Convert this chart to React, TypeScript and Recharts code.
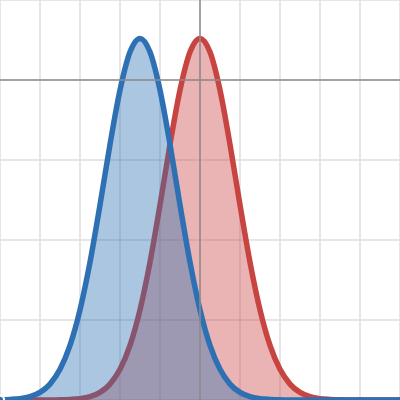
import { AreaChart, Area, XAxis, YAxis, CartesianGrid, ReferenceLine } from "recharts";

const xValues = [
  -5, -4.75, -4.5, -4.25, -4, -3.75, -3.5, -3.25, -3, -2.75, -2.5, -2.25, -2, -1.75, -1.5, -1.25, -1, -0.75, -0.5,
  -0.25, 0, 0.25, 0.5, 0.75, 1, 1.25, 1.5, 1.75, 2, 2.25, 2.5, 2.75, 3, 3.25, 3.5, 3.75, 4, 4.25, 4.5, 4.75, 5,
];

// red curve, peak at x = 0
const redValues = [
  -4, -4, -4, -4, -4, -3.999, -3.998, -3.993, -3.983, -3.958, -3.905, -3.801, -3.617, -3.318, -2.873, -2.277, -1.562,
  -0.806, -0.126, 0.349, 0.52, 0.349, -0.126, -0.806, -1.562, -2.277, -2.873, -3.318, -3.617, -3.801, -3.905, -3.958,
  -3.983, -3.993, -3.998, -3.999, -4, -4, -4, -4, -4,
];

// blue curve, peak at x = -1.5
const blueValues = [
  -3.998, -3.993, -3.983, -3.958, -3.905, -3.801, -3.617, -3.318, -2.873, -2.277, -1.562, -0.806, -0.126, 0.349, 0.52,
  0.349, -0.126, -0.806, -1.562, -2.277, -2.873, -3.318, -3.617, -3.801, -3.905, -3.958, -3.983, -3.993, -3.998,
  -3.999, -4, -4, -4, -4, -4, -4, -4, -4, -4, -4, -4,
];

const xTicks = [-5, -4, -3, -2, -1, 0, 1, 2, 3, 4, 5];
const yTicks = [-4, -3, -2, -1, 0, 1];

const RED = "#c74440";
const BLUE = "#2d70b3";

const data = xValues.map((x, i) => ({ x, red: redValues[i], blue: blueValues[i] }));

export default function App() {
  return (
    <div style={{ position: "fixed", left: 0, top: 0, width: 400, height: 400, background: "#fff" }}>
      <AreaChart width={400} height={400} data={data} margin={{ top: 0, right: 0, bottom: 0, left: 0 }}>
        <CartesianGrid stroke="#dedede" strokeWidth={1.5} />
        <XAxis dataKey="x" type="number" domain={[-5, 5]} ticks={xTicks} hide />
        <YAxis type="number" domain={[-4, 1]} ticks={yTicks} hide />
        <ReferenceLine x={0} stroke="#8c8c8c" strokeWidth={1.5} />
        <ReferenceLine y={0} stroke="#8c8c8c" strokeWidth={1.5} />
        <Area
          type="monotone"
          dataKey="red"
          baseValue={-4}
          stroke={RED}
          strokeWidth={5.5}
          fill={RED}
          fillOpacity={0.4}
          isAnimationActive={false}
        />
        <Area
          type="monotone"
          dataKey="blue"
          baseValue={-4}
          stroke={BLUE}
          strokeWidth={5.5}
          fill={BLUE}
          fillOpacity={0.4}
          isAnimationActive={false}
        />
      </AreaChart>
    </div>
  );
}
